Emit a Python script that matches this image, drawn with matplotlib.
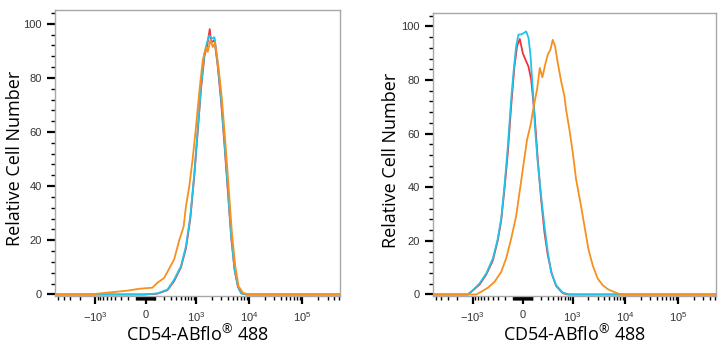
import matplotlib
matplotlib.use("Agg")
import matplotlib.pyplot as plt
import numpy as np
from matplotlib.ticker import FixedLocator, FixedFormatter, MultipleLocator

plt.rcParams['font.family'] = ['Open Sans', 'DejaVu Sans']
plt.rcParams['mathtext.fontset'] = 'custom'
plt.rcParams['mathtext.rm'] = 'Liberation Sans'
plt.rcParams['mathtext.default'] = 'regular'

# biexponential-like axis (arcsinh)
C = 231.0
X_MIN, X_MAX = -5800, 510000

RED = '#ee3340'
CYAN = '#22c3e6'
ORANGE = '#f7901e'

# ---- left panel (all three overlapping)
left_red_x = [X_MIN, -17, 122, 251, 362, 504, 637, 777, 931, 1079, 1251, 1450, 1638, 1832,
              1950, 2248, 2601, 3008, 3479, 4022, 4650, 5376, 6216, 7180, 8928, X_MAX]
left_red_y = [0, 0, 0.3, 1.6, 5, 10, 17, 28, 44, 60, 76, 88, 92, 98,
              93, 94, 84, 71, 55, 38, 21, 9, 2.8, 0.4, 0, 0]

left_cyan_x = [X_MIN, -17, 122, 251, 362, 504, 637, 777, 931, 1079, 1251, 1450, 1638, 1806,
               2001, 2248, 2601, 3008, 3479, 4022, 4650, 5376, 6216, 7180, 8928, X_MAX]
left_cyan_y = [0, 0, 0.4, 1.8, 5.5, 10.4, 17.8, 28.8, 44.8, 60.7, 76.7, 89, 93.3, 95.7,
               94.5, 95, 85, 72, 56, 38.7, 21.5, 9.2, 3, 0.4, 0, 0]

left_orange_x = [X_MIN, -1079, -930, -429, -204, -68, 68, 122, 204, 276, 362, 465, 572, 637,
                 742, 863, 1003, 1163, 1347, 1560, 1679, 1888, 2091, 2314, 2678, 3096, 3581,
                 4140, 4787, 5535, 6392, 7723, 9598, X_MAX]
left_orange_y = [0, 0, 0.3, 0.9, 1.4, 2.1, 2.5, 4.3, 6.1, 9.5, 13, 20, 25, 32.5,
                 40, 50, 62, 75, 86.5, 91.4, 89.6, 94, 91.4, 93, 84, 72.4, 57,
                 40, 22.7, 10.4, 3, 0.6, 0, 0]

# ---- right panel
right_red_x = [X_MIN, -1251, -1003, -742, -545, -394, -304, -251, -204, -161, -122, -86, -58, -30,
               0, 34, 58, 86, 122, 161, 204, 251, 304, 375, 465, 637, 801, X_MAX]
right_red_y = [0, 0, 1.5, 3.7, 7.4, 12.7, 20.2, 27.6, 39.4, 53, 70.3, 85, 92.6, 95.3,
               90, 87, 85, 80.2, 67.8, 50.5, 35.6, 23.3, 14.6, 7.8, 3.2, 0.5, 0, 0]

right_cyan_x = [X_MIN, -1251, -1003, -742, -545, -394, -304, -251, -204, -161, -122, -93, -68, -44,
                -17, 10, 34, 58, 78, 104, 130, 161, 204, 251, 304, 362, 465, 637, 863, X_MAX]
right_cyan_y = [0, 0, 1.6, 4.1, 7.8, 13.4, 20.8, 28.2, 40.6, 55.4, 72.8, 84, 92.6, 96.9,
                97, 97.5, 98.1, 95.7, 89.5, 76.5, 61.6, 49.3, 36.9, 25.7, 15.8, 8.4, 3.5, 0.7, 0, 0]

right_orange_x = [X_MIN, -863, -688, -504, -362, -251, -183, -122, -68, -23, 10, 44, 78, 115,
                  153, 187, 222, 261, 304, 350, 394, 443, 504, 590, 688, 742, 863, 1003, 1163,
                  1408, 1679, 2001, 2417, 3008, 3738, 4650, 6040, 7723, 9598, X_MAX]
right_orange_y = [0, 0, 1, 2.5, 4.7, 8.4, 13.4, 20.8, 29.2, 40.6, 49.3, 57.9, 62.9, 70.3,
                  76.5, 84.5, 81, 85.6, 89.5, 91.3, 95, 92.6, 86.4, 79.6, 74, 69, 61.6, 53, 43,
                  34.4, 25.7, 17, 10.9, 5.9, 3.5, 2, 1, 0.2, 0, 0]

major_x = [-1000, 0, 1000, 10000, 100000]
major_labels = ['$-10^3$', '0', '$10^3$', '$10^4$', '$10^5$']


def fwd(x):
    return np.arcsinh(np.asarray(x) / C)


def inv(u):
    return C * np.sinh(np.asarray(u))


def minor_positions():
    vals = []
    for k in range(1, 6):
        for m in range(1, 10):
            v = m * 10 ** k
            for s in (1, -1):
                p = s * v
                if X_MIN < p < X_MAX and p not in major_x:
                    vals.append(p)
    return sorted(vals)


def style_axes(ax, ylab_x):
    ax.set_xscale('function', functions=(fwd, inv))
    ax.set_xlim(X_MIN, X_MAX)
    ax.set_ylim(-0.6, 105)
    for sp in ax.spines.values():
        sp.set_color('#a8a8a8')
        sp.set_linewidth(1.0)
    ax.xaxis.set_major_locator(FixedLocator(major_x))
    ax.xaxis.set_major_formatter(FixedFormatter(major_labels))
    ax.xaxis.set_minor_locator(FixedLocator(minor_positions()))
    ax.yaxis.set_major_locator(MultipleLocator(20))
    ax.yaxis.set_minor_locator(MultipleLocator(4))
    ax.tick_params(axis='both', which='major', direction='out', length=6, width=1.6,
                   color='black', labelsize=8, labelcolor='#333333')
    ax.tick_params(axis='both', which='minor', direction='out', length=3, width=1.0,
                   color='black')
    ax.tick_params(axis='x', which='major', pad=4)
    for lab in ax.get_xticklabels() + ax.get_yticklabels():
        lab.set_fontfamily('Liberation Sans')
    ax.set_xlabel('CD54-ABflo$^{®}$ 488', fontsize=13)
    ax.xaxis.set_label_coords(0.5, -0.1)
    ax.set_ylabel('Relative Cell Number', fontsize=13)
    ax.yaxis.set_label_coords(ylab_x, 0.48)


fig = plt.figure(figsize=(7.25, 3.5), dpi=100)
ax1 = fig.add_axes([0.0759, 0.154, 0.393, 0.817])
ax2 = fig.add_axes([0.597, 0.154, 0.390, 0.809])

lw = 1.3
ax1.plot(left_red_x, left_red_y, color=RED, lw=lw)
ax1.plot(left_cyan_x, left_cyan_y, color=CYAN, lw=lw)
ax1.plot(left_orange_x, left_orange_y, color=ORANGE, lw=lw)

ax2.plot(right_red_x, right_red_y, color=RED, lw=lw)
ax2.plot(right_cyan_x, right_cyan_y, color=CYAN, lw=lw)
ax2.plot(right_orange_x, right_orange_y, color=ORANGE, lw=lw)

style_axes(ax1, -0.108)
style_axes(ax2, -0.117)

fig.savefig('out.png', dpi=100)
